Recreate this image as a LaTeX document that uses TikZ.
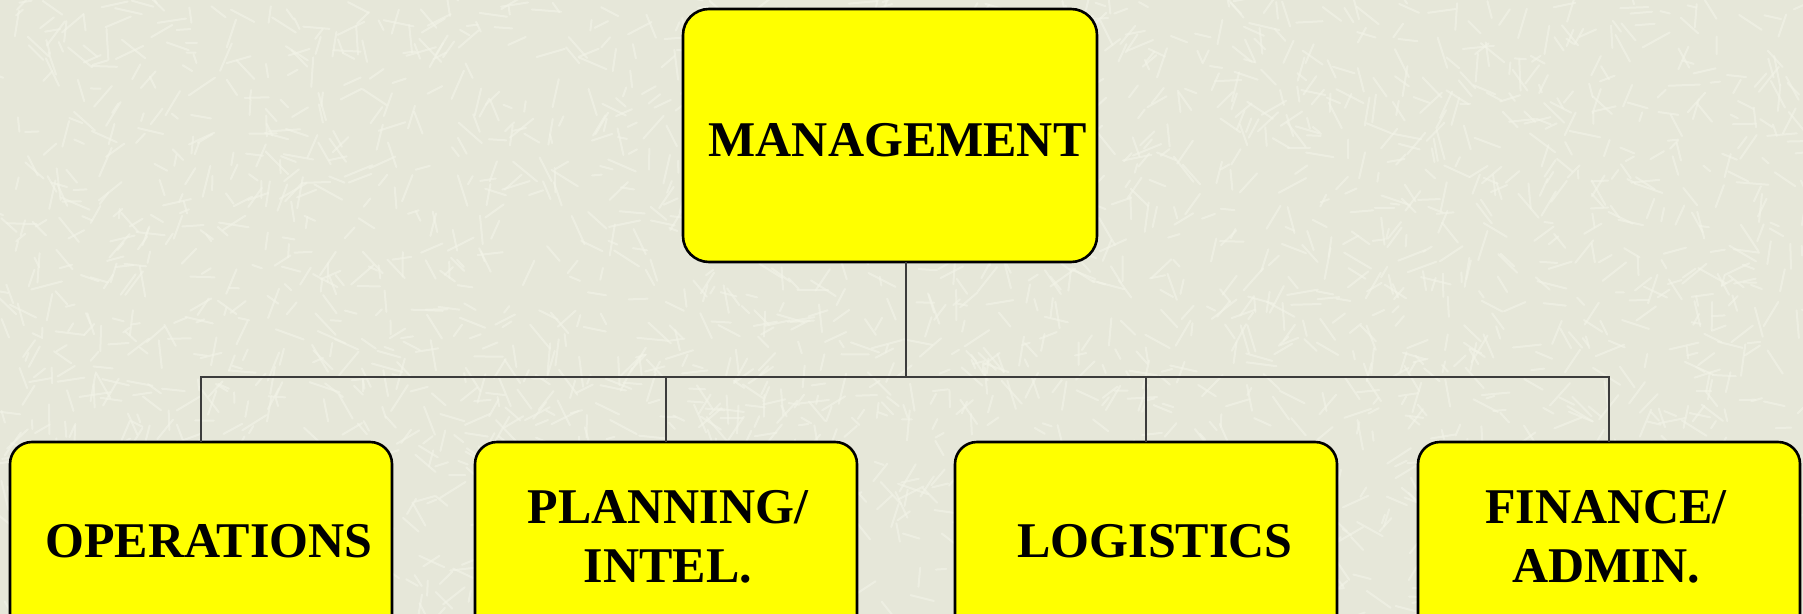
\documentclass[tikz,border=0pt]{standalone}
\usepackage{fontspec}
\setmainfont{Liberation Serif}
\definecolor{bgcol}{RGB}{230,231,217}
\definecolor{texcol}{RGB}{243,244,232}
\definecolor{boxyellow}{RGB}{255,255,0}
\definecolor{linecol}{RGB}{60,60,60}
\begin{document}
\begin{tikzpicture}[x=0.5pt,y=-0.5pt,
  topbox/.style={draw=black, line width=1.3pt, fill=boxyellow, rounded corners=13pt,
    minimum width=207pt, minimum height=126.5pt, inner sep=0pt, outer sep=0pt},
  subbox/.style={draw=black, line width=1.3pt, fill=boxyellow, rounded corners=11pt,
    minimum width=191pt, minimum height=109pt, inner sep=0pt, outer sep=0pt},
  lbl/.style={font=\bfseries\fontsize{25}{29.5}\selectfont, align=center, inner sep=0pt, text=black},
  conn/.style={draw=linecol, line width=1pt}]
\useasboundingbox (0,0) rectangle (1803,614);
\clip (0,0) rectangle (1803,614);
\fill[bgcol] (0,0) rectangle (1803,614);
% background texture
\pgfmathsetseed{12}
\foreach \i in {1,...,2600}{
  \pgfmathsetmacro\xa{rnd*1803}
  \pgfmathsetmacro\ya{rnd*614}
  \pgfmathsetmacro\ang{rnd*360}
  \pgfmathsetmacro\len{8+rnd*24}
  \draw[texcol, line width=1pt, line cap=round, opacity=0.6]
    (\xa,\ya) -- ++(\ang:\len);
}
% boxes
\node[topbox] (mgmt) at (890,135.5) {};
\node[subbox] (ops)  at (201,551) {};
\node[subbox] (plan) at (666,551) {};
\node[subbox] (log)  at (1146,551) {};
\node[subbox] (fin)  at (1609,551) {};
% texts
\node[lbl, anchor=base] (tmgmt) at (897.5,157) {MANAGEMENT};
\node[lbl, anchor=base] (tops)  at (209,557) {OPERATIONS};
\node[lbl] (tplan) at (668,537) {PLANNING/\\INTEL.};
\node[lbl, anchor=base] (tlog)  at (1155,557) {LOGISTICS};
\node[lbl] (tfin)  at (1606,537) {FINANCE/\\ADMIN.};
% connectors
\coordinate (stub) at (906,377);
\draw[conn] (stub |- mgmt.south) -- (stub);
\draw[conn] (ops.north) -- (ops.north |- stub) -- (fin.north |- stub) -- (fin.north);
\draw[conn] (plan.north) -- (plan.north |- stub);
\draw[conn] (log.north) -- (log.north |- stub);
\end{tikzpicture}
\end{document}
